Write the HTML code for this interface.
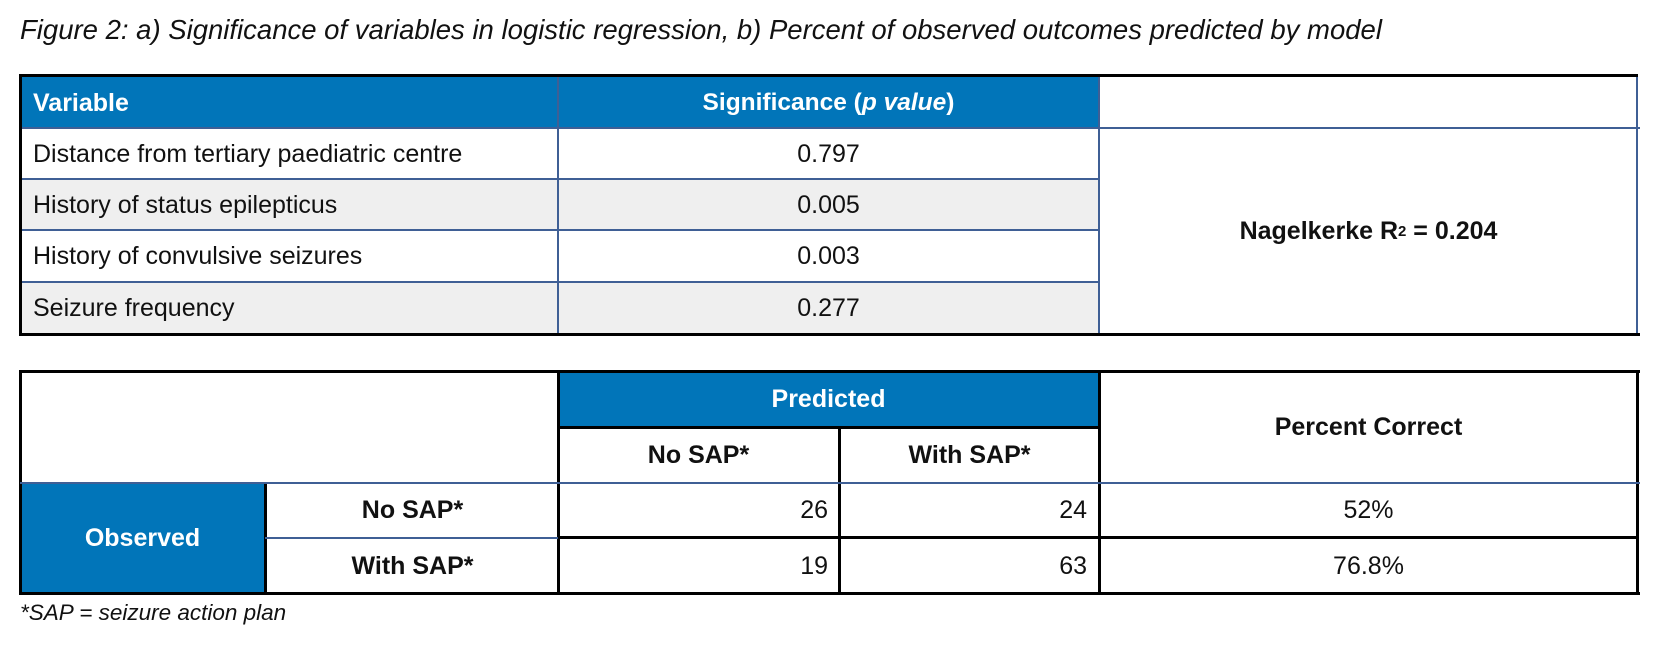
<!DOCTYPE html>
<html><head><style>
body{margin:0;width:1662px;height:646px;background:#fff;position:relative;font-family:"Liberation Sans",Arial,sans-serif;overflow:hidden}
.a{position:absolute;box-sizing:border-box}
.t{position:absolute;display:flex;align-items:center;font-size:25px;color:#111;white-space:nowrap}
.c{justify-content:center}.r{justify-content:flex-end}
.b{font-weight:bold}.w{color:#fff}
.bl{background:#0175b9}
.g{background:#efefef}
.hl{position:absolute;height:2px;background:#3f5f95}
.vl{position:absolute;width:2px;background:#3f5f95}
.hk{position:absolute;height:3px;background:#000}
.vk{position:absolute;width:3px;background:#000}
</style></head><body>
<div class="t" style="left:20px;top:12px;height:36px;font-size:27.5px;font-style:italic">Figure 2: a) Significance of variables in logistic regression, b) Percent of observed outcomes predicted by model</div>

<!-- Table 1 -->
<div class="a bl" style="left:20px;top:75px;width:1080px;height:53px"></div>
<div class="a g" style="left:20px;top:179px;width:1080px;height:51px"></div>
<div class="a g" style="left:20px;top:282px;width:1080px;height:52px"></div>
<div class="hl" style="left:20px;top:127px;width:1620px"></div>
<div class="hl" style="left:20px;top:178px;width:1080px"></div>
<div class="hl" style="left:20px;top:229px;width:1080px"></div>
<div class="hl" style="left:20px;top:281px;width:1080px"></div>
<div class="vl" style="left:557px;top:75px;height:260px"></div>
<div class="vl" style="left:1098px;top:75px;height:260px"></div>
<div class="vl" style="left:1636px;top:75px;height:260px"></div>
<div class="hk" style="left:20px;top:74px;width:1618px"></div>
<div class="hk" style="left:20px;top:333px;width:1620px"></div>
<div class="vk" style="left:19px;top:74px;height:262px"></div>
<div class="t b w" style="left:33px;top:78px;height:50px">Variable</div>
<div class="t b w c" style="left:558px;top:78px;width:541px;height:50px;font-size:24.5px">Significance (<i>p value</i>)</div>
<div class="t" style="left:33px;top:129px;height:50px">Distance from tertiary paediatric centre</div>
<div class="t c" style="left:558px;top:129px;width:541px;height:50px">0.797</div>
<div class="t" style="left:33px;top:180px;height:50px">History of status epilepticus</div>
<div class="t c" style="left:558px;top:180px;width:541px;height:50px">0.005</div>
<div class="t" style="left:33px;top:231px;height:51px">History of convulsive seizures</div>
<div class="t c" style="left:558px;top:231px;width:541px;height:51px">0.003</div>
<div class="t" style="left:33px;top:283px;height:51px">Seizure frequency</div>
<div class="t c" style="left:558px;top:283px;width:541px;height:51px">0.277</div>
<div class="t b c" style="left:1100px;top:129px;width:537px;height:205px">Nagelkerke R<sup style="font-size:15px">2</sup>&nbsp;= 0.204</div>

<!-- Table 2 -->
<div class="a bl" style="left:558px;top:371px;width:541px;height:56px"></div>
<div class="a bl" style="left:20px;top:483px;width:245px;height:111px"></div>
<div class="hk" style="left:20px;top:370px;width:1620px"></div>
<div class="hk" style="left:20px;top:592px;width:1620px"></div>
<div class="vk" style="left:19px;top:370px;height:225px"></div>
<div class="vk" style="left:1636px;top:370px;height:225px"></div>
<div class="vk" style="left:557px;top:370px;height:225px"></div>
<div class="vk" style="left:1098px;top:370px;height:225px"></div>
<div class="vk" style="left:838px;top:426px;height:168px"></div>
<div class="vk" style="left:264px;top:483px;height:111px"></div>
<div class="hk" style="left:558px;top:426px;width:541px"></div>
<div class="hl" style="left:20px;top:482px;width:1620px"></div>
<div class="hl" style="left:265px;top:537px;width:294px"></div>
<div class="hk" style="left:558px;top:536px;width:1080px"></div>
<div class="t b w c" style="left:558px;top:372px;width:541px;height:54px">Predicted</div>
<div class="t b c" style="left:558px;top:428px;width:281px;height:55px">No SAP*</div>
<div class="t b c" style="left:840px;top:428px;width:259px;height:55px">With SAP*</div>
<div class="t b c" style="left:1100px;top:372px;width:537px;height:111px">Percent Correct</div>
<div class="t b w c" style="left:20px;top:484px;width:245px;height:109px">Observed</div>
<div class="t b c" style="left:267px;top:484px;width:291px;height:53px">No SAP*</div>
<div class="t b c" style="left:267px;top:539px;width:291px;height:54px">With SAP*</div>
<div class="t r" style="left:558px;top:484px;width:270px;height:53px">26</div>
<div class="t r" style="left:840px;top:484px;width:247px;height:53px">24</div>
<div class="t c" style="left:1100px;top:484px;width:537px;height:53px">52%</div>
<div class="t r" style="left:558px;top:539px;width:270px;height:54px">19</div>
<div class="t r" style="left:840px;top:539px;width:247px;height:54px">63</div>
<div class="t c" style="left:1100px;top:539px;width:537px;height:54px">76.8%</div>

<div class="t" style="left:20px;top:598px;height:30px;font-size:22.5px;font-style:italic">*SAP = seizure action plan</div>
</body></html>
